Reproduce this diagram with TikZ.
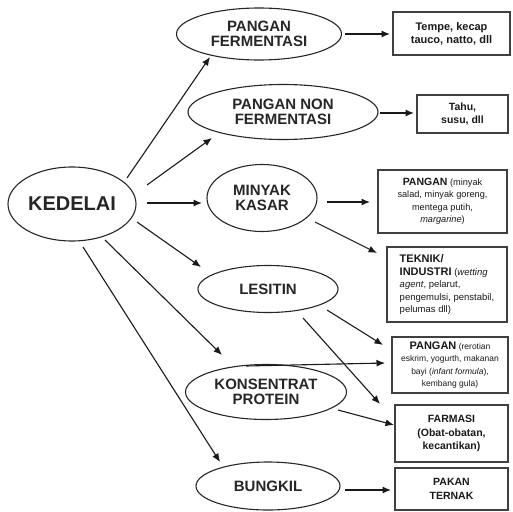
\documentclass[tikz,border=0pt]{standalone}
\usepackage{fontspec}
\setmainfont{Liberation Sans}
\usetikzlibrary{shapes.geometric,arrows.meta,calc}
\begin{document}
\begin{tikzpicture}[x=1pt,y=-1pt,
  ell/.style={ellipse,draw=black!85,line width=1.1pt,inner sep=0pt,align=center,
    font=\fontsize{15}{15.5}\selectfont\bfseries,text=black!85},
  box/.style={rectangle,draw=black!75,line width=1.4pt,inner sep=0pt,align=center,text=black!90},
  sm/.style={font=\fontsize{8.5}{12.5}\selectfont},
  arr/.style={-{Latex[length=8.5pt,width=7pt]},line width=1.1pt,draw=black!90}
]
\useasboundingbox (0,0) rectangle (513,511);
% ellipses
\node[ell,minimum width=128,minimum height=74,font=\fontsize{20}{22}\selectfont\bfseries] (ked) at (72,204) {KEDELAI};
\node[ell,minimum width=165,minimum height=52] (pf) at (259,34) {PANGAN\\FERMENTASI};
\node[ell,minimum width=190,minimum height=55] (pnf) at (283,112) {PANGAN NON\\FERMENTASI};
\node[ell,minimum width=110,minimum height=67] (mk) at (262,198) {MINYAK\\KASAR};
\node[ell,minimum width=140,minimum height=47] (les) at (268,289) {LESITIN};
\node[ell,minimum width=161,minimum height=55] (kp) at (266,392) {KONSENTRAT\\PROTEIN};
\node[ell,minimum width=144,minimum height=48] (bk) at (268,486) {BUNGKIL};
% boxes
\node[box,minimum width=117,minimum height=43,font=\fontsize{11}{13}\selectfont\bfseries] (tempe) at (451.5,33.5) {Tempe, kecap\\tauco, natto, dll};
\node[box,minimum width=91,minimum height=38,font=\fontsize{10.5}{13}\selectfont\bfseries] (tahu) at (462.5,114) {Tahu,\\susu, dll};
\node[box,minimum width=129,minimum height=63,font=\fontsize{9.2}{12.5}\selectfont] (pmin) at (442.5,201.5)
  {{\fontsize{10.5}{12}\selectfont\bfseries PANGAN} (minyak\\salad, minyak goreng,\\mentega putih,\\\textit{margarine})};
\node[box,minimum width=120,minimum height=75,font=\fontsize{9.5}{12.5}\selectfont,align=left] (tek) at (447,284.5)
  {{\fontsize{11}{12}\selectfont\bfseries TEKNIK/}\\{\fontsize{11}{12}\selectfont\bfseries INDUSTRI} (\textit{wetting}\\\textit{agent}, pelarut,\\pengemulsi, penstabil,\\pelumas dll)};
\node[box,minimum width=116,minimum height=56,sm] (prer) at (450,365)
  {{\fontsize{11}{12}\selectfont\bfseries PANGAN} (rerotian\\eskrim, yogurth, makanan\\bayi (\textit{infant formula}),\\kembang gula)};
\node[box,minimum width=113,minimum height=57,font=\fontsize{10.5}{13.5}\selectfont\bfseries] (farm) at (451.5,433.5) {FARMASI\\(Obat-obatan,\\kecantikan)};
\node[box,minimum width=113,minimum height=42,font=\fontsize{10.5}{14}\selectfont\bfseries] (pakan) at (451.5,489) {PAKAN\\TERNAK};
% connectors
\draw[arr] ($(ked)+(55,-26)$) -- ($(pf)+(-49,23)$);
\draw[arr] ($(ked)+(75,-19)$) -- ($(pnf)+(-71,26)$);
\draw[arr] ($(ked)+(75,-1)$) -- ($(mk)+(-60,5)$);
\draw[arr] ($(ked)+(65,18)$) -- ($(les)+(-67,-22)$);
\draw[arr] ($(ked)+(33,36)$) -- ($(kp)+(-44,-37)$);
\draw[arr] ($(ked)+(11,43)$) -- ($(bk)+(-48,-24)$);
\draw[arr] ($(pf)+(86,0)$) -- ($(tempe)+(-61.5,0.5)$);
\draw[arr] ($(pnf)+(97,1)$) -- ($(tahu)+(-48.5,-1)$);
\draw[arr] ($(mk)+(65,4)$) -- ($(pmin)+(-72.5,0.5)$);
\draw[arr] ($(mk)+(53,24)$) -- ($(tek)+(-70,-31.5)$);
\draw[arr] ($(les)+(59,21)$) -- ($(prer)+(-67,-20)$);
\draw[arr] ($(les)+(35,29)$) -- ($(farm)+(-71.5,-29.5)$);
\draw[arr] ($(kp)+(-20,-26)$) -- ($(prer)+(-65,-2)$);
\draw[arr] ($(kp)+(72,18)$) -- ($(farm)+(-57.5,-8.5)$);
\draw[arr] ($(bk)+(77,4)$) -- ($(pakan)+(-60.5,1)$);
\end{tikzpicture}
\end{document}
